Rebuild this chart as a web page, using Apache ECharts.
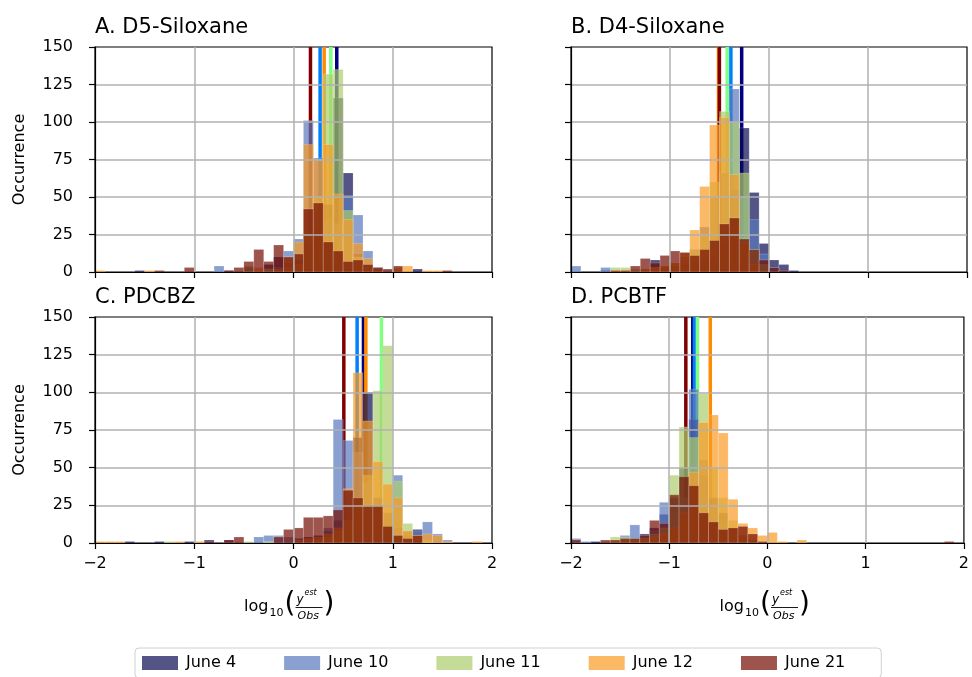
<!DOCTYPE html>
<html>
<head>
<meta charset="utf-8">
<script src="https://cdn.jsdelivr.net/npm/echarts@6/dist/echarts.min.js"></script>
<style>
html, body { margin: 0; padding: 0; background: #fff; }
#chart { width: 972px; height: 677px; }
</style>
</head>
<body>
<div id="chart"></div>
<script>
// histogram bins: 40 bins of 0.1 from -2 to 2
var binStart = -2, binWidth = 0.1;
var seriesNames = ['June 4', 'June 10', 'June 11', 'June 12', 'June 21'];
var panelTitles = ['A. D5-Siloxane', 'B. D4-Siloxane', 'C. PDCBZ', 'D. PCBTF'];

// A. D5-Siloxane
var a_jun4  = [0,0,0,0,1,0,0,0,0,0, 0,0,0,1,0,3,0,5,10,6, 8,20,28,45,116,66,12,4,2,0, 0,0,2,0,0,0,0,0,0,0];
var a_jun10 = [0,0,0,0,0,0,0,0,0,0, 0,0,4,0,0,0,0,2,3,14, 22,101,76,35,32,51,38,14,3,1, 0,0,0,0,0,0,0,0,0,0];
var a_jun11 = [0,0,0,0,0,0,0,0,0,0, 0,0,0,0,0,4,0,2,0,3, 5,25,50,132,135,41,10,3,0,0, 0,0,0,0,0,0,0,0,0,0];
var a_jun12 = [1,0,0,0,0,1,0,0,0,0, 0,0,0,0,0,0,3,0,2,10, 20,85,75,85,52,35,19,9,2,0, 3,4,0,1,1,0,0,0,0,0];
var a_jun21 = [0,0,0,0,0,0,1,0,0,3, 0,0,0,1,3,7,15,7,18,10, 12,42,46,20,14,7,8,5,3,2, 4,0,0,0,0,1,0,0,0,0];
var a_medians = [0.436, 0.268, 0.376, 0.309, 0.171];

// B. D4-Siloxane
var b_jun4  = [0,0,0,1,0,0,0,0,8,3, 4,5,6,8,10,20,55,96,53,19, 8,5,1,0,0,0,0,0,0,0, 0,0,0,0,0,0,0,0,0,0];
var b_jun10 = [4,0,0,3,0,1,0,2,0,3, 4,8,15,30,50,66,122,50,35,12, 3,0,0,0,0,0,0,0,0,0, 0,0,0,0,0,0,0,0,0,0];
var b_jun11 = [0,0,0,0,3,3,2,2,3,4, 6,10,15,25,60,107,100,66,15,5, 0,0,0,0,0,0,0,0,0,0, 0,0,0,0,0,0,0,0,0,0];
var b_jun12 = [0,0,0,0,1,1,0,2,3,4, 6,13,28,57,98,103,65,20,5,0, 0,0,0,0,0,0,0,0,0,0, 0,0,0,0,0,0,0,0,0,0];
var b_jun21 = [0,0,0,0,1,1,4,9,6,11, 14,13,11,15,21,32,36,22,15,8, 3,1,0,0,0,0,0,0,0,0, 0,0,0,0,0,0,0,0,0,0];
var b_medians = [-0.276, -0.385, -0.422, -0.51, -0.501];

// C. PDCBZ
var c_jun4  = [0,0,0,1,0,0,1,0,0,1, 0,2,0,2,0,0,0,0,0,0, 3,4,5,8,15,25,70,100,30,20, 10,5,9,0,0,0,0,0,0,0];
var c_jun10 = [0,0,0,0,0,0,0,0,0,0, 0,0,0,1,0,0,4,5,5,4, 3,2,3,10,82,68,60,40,30,20, 45,8,8,14,6,2,0,0,0,0];
var c_jun11 = [0,0,0,0,0,0,0,1,0,0, 1,0,0,0,0,1,0,1,0,0, 0,0,2,4,8,15,30,45,101,131, 41,13,5,2,0,0,0,0,0,0];
var c_jun12 = [1,1,1,0,0,0,0,0,1,0, 1,0,0,0,0,0,0,0,0,0, 2,3,4,6,10,36,113,81,54,39, 30,8,5,6,5,1,0,0,1,0];
var c_jun21 = [0,0,0,0,0,0,0,0,0,0, 0,1,0,2,4,0,0,0,4,9, 10,17,17,18,22,35,30,25,25,11, 5,3,5,0,0,0,0,0,0,0];
var c_medians = [0.705, 0.641, 0.886, 0.729, 0.507];

// D. PCBTF
var d_jun4  = [0,0,1,0,0,2,3,6,10,19, 30,50,82,45,30,20,10,5,2,0, 0,0,0,0,0,0,0,0,0,0, 0,0,0,0,0,0,0,0,0,0];
var d_jun10 = [3,1,0,0,0,5,12,4,8,27, 20,30,102,55,25,12,5,3,0,0, 0,0,0,0,0,0,0,0,0,0, 0,0,0,0,0,0,0,0,0,0];
var d_jun11 = [0,0,0,0,4,4,3,3,6,10, 45,77,70,99,50,30,15,5,2,0, 0,0,0,0,0,0,0,0,0,0, 0,0,0,0,0,0,0,0,0,0];
var d_jun12 = [0,0,0,0,1,2,2,3,4,6, 10,20,47,80,85,73,29,13,10,5, 7,1,0,2,0,0,0,0,0,0, 0,0,0,0,0,0,0,0,0,0];
var d_jun21 = [2,0,0,2,2,3,3,5,15,13, 32,44,38,20,14,9,10,11,6,1, 0,0,0,0,0,0,0,0,0,0, 0,0,0,0,0,0,0,0,1,0];
var d_medians = [-0.76, -0.743, -0.713, -0.582, -0.831];

var panels = [
    {counts: [a_jun4, a_jun10, a_jun11, a_jun12, a_jun21], medians: a_medians},
    {counts: [b_jun4, b_jun10, b_jun11, b_jun12, b_jun21], medians: b_medians},
    {counts: [c_jun4, c_jun10, c_jun11, c_jun12, c_jun21], medians: c_medians},
    {counts: [d_jun4, d_jun10, d_jun11, d_jun12, d_jun21], medians: d_medians}
];

var barColors = ['rgba(11,11,82,0.7)', 'rgba(88,119,188,0.7)', 'rgba(172,205,108,0.7)',
                 'rgba(249,154,36,0.7)', 'rgba(114,11,0,0.7)'];
var lineColors = ['#000080', '#0080ff', '#80ff80', '#ff8c00', '#800000'];

var grids = [
    {left: 95, top: 47, width: 397, height: 225},
    {left: 571, top: 47, width: 396, height: 225},
    {left: 95, top: 317, width: 397, height: 226},
    {left: 571, top: 317, width: 396, height: 226}
];

function toBars(counts) {
    var out = [];
    counts.forEach(function (c, i) {
        if (c > 0) {
            var x0 = +(binStart + i * binWidth).toFixed(2);
            out.push([x0, +(x0 + binWidth).toFixed(2), c]);
        }
    });
    return out;
}

function renderBar(params, api) {
    var p0 = api.coord([api.value(0), api.value(2)]);
    var p1 = api.coord([api.value(1), 0]);
    return {
        type: 'rect',
        shape: {x: p0[0], y: p0[1], width: p1[0] - p0[0], height: p1[1] - p0[1]},
        style: {fill: api.visual('color'), stroke: 'rgba(255,255,255,0.3)', lineWidth: 0.6}
    };
}

function renderMedian(params, api) {
    var top = api.coord([api.value(0), 150]);
    var bot = api.coord([api.value(0), 0]);
    return {
        type: 'line',
        shape: {x1: top[0], y1: top[1], x2: bot[0], y2: bot[1]},
        style: {stroke: api.visual('color'), lineWidth: 3.5}
    };
}

function minus(v) {
    return v < 0 ? '\u2212' + Math.abs(v) : String(v);
}

var series = [];
panels.forEach(function (p, gi) {
    p.medians.forEach(function (m, k) {
        series.push({
            type: 'custom', name: seriesNames[k] + ' median',
            xAxisIndex: gi, yAxisIndex: gi, z: 1, clip: true,
            itemStyle: {color: lineColors[k]},
            renderItem: renderMedian,
            data: [[m]]
        });
    });
    p.counts.forEach(function (c, k) {
        series.push({
            type: 'custom', name: seriesNames[k],
            xAxisIndex: gi, yAxisIndex: gi, z: 2, clip: true,
            itemStyle: {color: barColors[k]},
            renderItem: renderBar,
            encode: {x: [0, 1], y: 2},
            data: toBars(c)
        });
    });
});

var xAxes = grids.map(function (g, i) {
    return {
        type: 'value', gridIndex: i, min: -2, max: 2, interval: 1, z: 3,
        axisLine: {show: true, onZero: false, lineStyle: {color: '#000', width: 1.2}},
        axisTick: {show: true, length: 6, lineStyle: {color: '#000', width: 1.2}},
        axisLabel: {show: i >= 2, color: '#000', fontSize: 16, margin: 13, formatter: minus},
        splitLine: {show: true, showMinLine: false, showMaxLine: false,
                    lineStyle: {color: '#b0b0b0', width: 1.5}}
    };
});

var yAxes = grids.map(function (g, i) {
    return {
        type: 'value', gridIndex: i, min: 0, max: 150, interval: 25, z: 3,
        name: i % 2 === 0 ? 'Occurrence' : '',
        nameLocation: 'middle', nameGap: 67,
        nameTextStyle: {color: '#000', fontSize: 16},
        axisLine: {show: true, onZero: false, lineStyle: {color: '#000', width: 1.2}},
        axisTick: {show: true, length: 6, lineStyle: {color: '#000', width: 1.2}},
        axisLabel: {show: i % 2 === 0, color: '#000', fontSize: 16, margin: 22},
        splitLine: {show: true, showMinLine: false, showMaxLine: false,
                    lineStyle: {color: '#b0b0b0', width: 1.5}}
    };
});

// log10(y^est / Obs) axis label, built from text pieces
function xLabel(cx) {
    var f = 'DejaVu Sans';
    function t(x, y, s, size, italic) {
        return {type: 'text', x: x, y: y, z: 10,
            style: {text: s, fontSize: size, fontFamily: f, fontStyle: italic ? 'italic' : 'normal',
                    fill: '#000', align: 'left', verticalAlign: 'middle'}};
    }
    return [
        t(cx - 49.5, 607, 'log', 16),
        t(cx - 24, 613, '10', 11),
        t(cx - 9, 605, '(', 28),
        t(cx + 3, 600, 'y', 12, true),
        t(cx + 11, 593, 'est', 8, true),
        {type: 'line', z: 10, shape: {x1: cx + 2, y1: 607.5, x2: cx + 29, y2: 607.5},
         style: {stroke: '#000', lineWidth: 0.9}},
        t(cx + 4, 616, 'Obs', 11, true),
        t(cx + 30, 605, ')', 28)
    ];
}

var option = {
    animation: false,
    backgroundColor: '#fff',
    textStyle: {fontFamily: 'DejaVu Sans'},
    title: grids.map(function (g, i) {
        return {text: panelTitles[i], left: g.left, top: g.top - 30, padding: 0,
                textStyle: {fontSize: 21, fontWeight: 'normal', color: '#000', fontFamily: 'DejaVu Sans'}};
    }),
    grid: grids.map(function (g) {
        return {left: g.left, top: g.top, width: g.width, height: g.height,
                show: true, borderColor: '#000', borderWidth: 1.2, backgroundColor: 'transparent'};
    }),
    legend: {
        data: seriesNames, left: 135, top: 648, icon: 'rect',
        itemWidth: 36, itemHeight: 14, itemGap: 48,
        borderColor: '#d0d0d0', borderWidth: 1, borderRadius: 4, padding: [7, 36, 7, 7],
        textStyle: {fontSize: 16, color: '#000', padding: [0, 0, 0, 3]}
    },
    xAxis: xAxes,
    yAxis: yAxes,
    graphic: xLabel(293.5).concat(xLabel(769)),
    series: series
};

var chart = echarts.init(document.getElementById('chart'));
chart.setOption(option);
</script>
</body>
</html>
